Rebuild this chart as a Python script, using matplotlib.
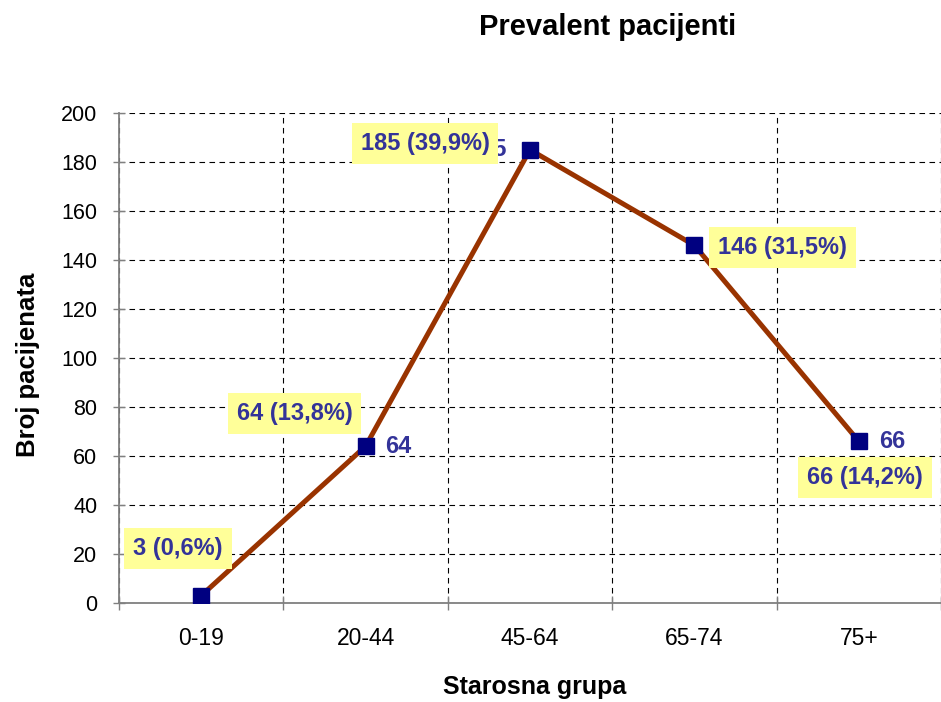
import numpy as np
import matplotlib
matplotlib.use("Agg")
import matplotlib.pyplot as plt

# data
groups = ["0-19", "20-44", "45-64", "65-74", "75+"]
patients = [3, 64, 185, 146, 66]
shares = ["0,6", "13,8", "39,9", "31,5", "14,2"]

# label offsets in pixels (share boxes and plain value labels)
# the 146 value label is fully covered by its box in the original, so it is left out
box_off = [(-23, 47), (-71, 33), (-105, 6), (88, -2), (6, -36)]
val_off = [None, (20, 0), (-23, 0), None, (20, 0)]

plt.rcParams['font.family'] = ['Liberation Sans', 'DejaVu Sans']

fig = plt.figure(figsize=(9.41, 7.02), dpi=100)
ax = fig.add_axes([119 / 941, 99 / 702, 822 / 941, 490 / 702])

x = np.arange(len(groups))
ax.plot(x, patients, color="#993300", linewidth=3.6, zorder=3,
        marker="s", markersize=11, markerfacecolor="#000080",
        markeredgecolor="#000080")

txt_col = "#333399"
# plain value labels first, so the boxes sit on top
for i, v in enumerate(patients):
    if val_off[i] is None:
        continue
    dx, dy = val_off[i]
    ax.annotate(str(v), (x[i], v), xytext=(dx, dy), textcoords="offset pixels",
                ha="left" if dx > 0 else "right", va="center",
                fontsize=17, fontweight="bold", color=txt_col, zorder=4)

for i, v in enumerate(patients):
    dx, dy = box_off[i]
    ax.annotate("%d (%s%%)" % (v, shares[i]), (x[i], v), xytext=(dx, dy),
                textcoords="offset pixels", ha="center", va="center",
                fontsize=17, fontweight="bold", color=txt_col, zorder=5,
                bbox=dict(boxstyle="square,pad=0.38", fc="#FFFF99", ec="none"))

ax.set_xlim(-0.5, 4.45)
ax.set_ylim(0, 200)
ax.set_yticks(np.arange(0, 201, 20))
ax.set_xticks(x)
ax.set_xticklabels(groups)
ax.set_xticks(np.arange(-0.5, 4.6, 1), minor=True)
ax.tick_params(axis="x", which="major", length=0, labelsize=16.5, pad=17)
ax.tick_params(axis="x", which="minor", length=10, direction="inout", width=1, color="#808080")
ax.tick_params(axis="y", length=9, direction="inout", width=1, color="#808080",
               labelsize=15.5, pad=11)

ax.grid(True, which="minor", axis="x", color="black", linestyle=(0, (5, 4)), linewidth=0.8)
ax.grid(True, which="major", axis="y", color="black", linestyle=(0, (5, 4)), linewidth=0.8)
for s in ["top", "right"]:
    ax.spines[s].set_visible(False)
ax.spines["left"].set_color("#808080")
ax.spines["bottom"].set_color("#808080")
ax.spines["left"].set_linewidth(1.3)
ax.spines["bottom"].set_linewidth(1.3)
ax.set_axisbelow(True)

fig.text(535 / 941, 1 - 687 / 702, "Starosna grupa", ha="center", va="center",
         fontsize=18, fontweight="bold")
fig.text(28 / 941, 1 - 365 / 702, "Broj pacijenata", ha="center", va="center",
         rotation=90, fontsize=18.5, fontweight="bold")
fig.text(608 / 941, 1 - 27 / 702, "Prevalent pacijenti", ha="center", va="center",
         fontsize=21, fontweight="bold")

fig.savefig("out.png", dpi=100)
